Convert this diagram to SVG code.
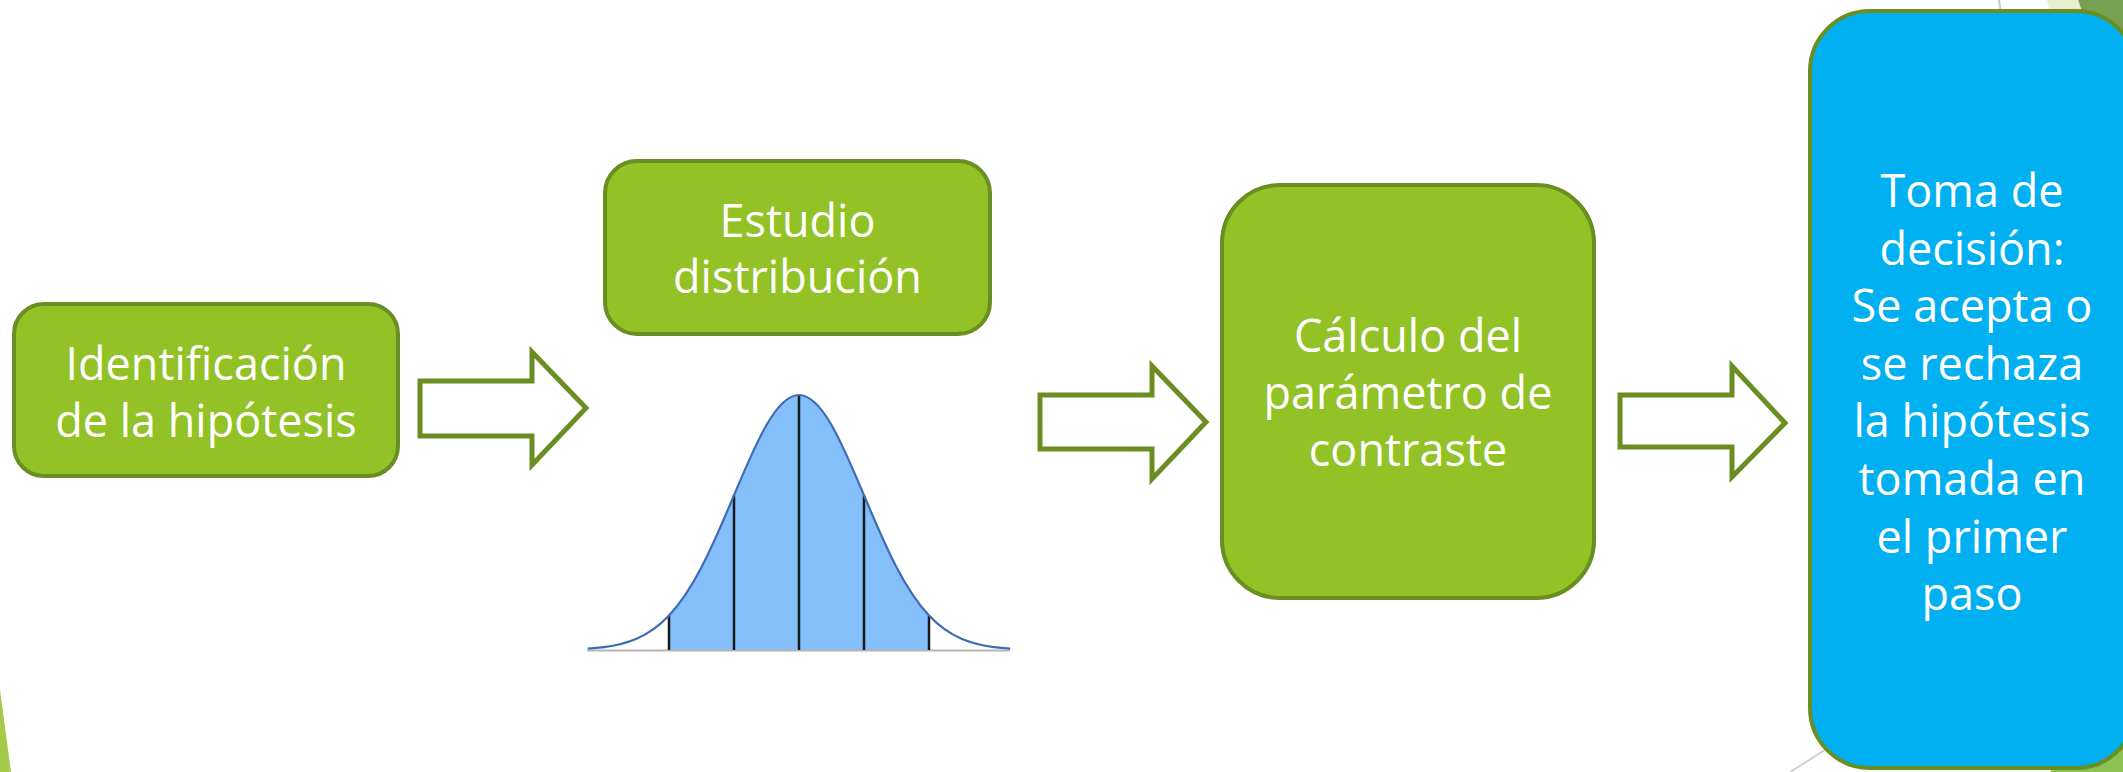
<svg xmlns="http://www.w3.org/2000/svg" width="2123" height="772" viewBox="0 0 2123 772">
  <style>
    .box { fill: #92C225; stroke: #6B8E23; stroke-width: 4; }
    .boxb { fill: #00B0F0; stroke: #6B8E23; stroke-width: 4; }
    .lbl { font-family: "Open Sans", "Noto Sans", "DejaVu Sans", sans-serif; font-size: 45px; fill: #FFFFFF; text-anchor: middle; }
    .arrow { fill: #FFFFFF; stroke: #6B8E23; stroke-width: 5; stroke-linejoin: miter; }
    .vline { stroke: #1A1A1A; stroke-width: 2.5; }
  </style>
  <rect width="2123" height="772" fill="#FFFFFF"/>

  <!-- background decorations -->
  <g id="decor">
    <polygon points="0,690 11,772 0,772" fill="#A5C94A"/>
    <line x1="1999" y1="0" x2="2005" y2="40" stroke="#C8C8C8" stroke-width="2"/>
    <polygon points="2047,0 2078,0 2100,60 2062,60" fill="#E6F0D0"/>
    <polygon points="2078,0 2123,0 2123,120 2100,60" fill="#76A052"/>
    <polygon points="2123,690 2123,772 2050,772" fill="#8CC152"/>
    <line x1="1790" y1="772" x2="1860" y2="728" stroke="#D0D0D0" stroke-width="2"/>
  </g>

  <g id="node-identificacion">
    <rect class="box" x="14" y="304" width="384" height="172" rx="30" ry="30"/>
    <text class="lbl" x="206" y="380">Identificación</text>
    <text class="lbl" x="206" y="437">de la hipótesis</text>
  </g>

  <g id="node-estudio">
    <rect class="box" x="605" y="161" width="385" height="173" rx="32" ry="32"/>
    <text class="lbl" x="797.5" y="237">Estudio</text>
    <text class="lbl" x="797.5" y="293">distribución</text>
  </g>

  <g id="normal-curve">
    <path d="M669,650 L669,615.5 C679.83,604 690.67,587.9 701.5,567.2 C712.33,546.5 723.17,521.08 734,495.3 C744.83,469.52 755.67,443.75 766.5,425 C777.33,406.25 788.17,395 799,395 C809.83,395 820.67,406.25 831.5,425 C842.33,443.75 853.17,469.52 864,495.3 C874.83,521.08 885.67,546.5 896.5,567.2 C907.33,587.9 918.17,604 929,615.5 L929,650 Z" fill="#84BFFB"/>
    <line x1="587" y1="650.5" x2="1010" y2="650.5" stroke="#B4B4B4" stroke-width="2"/>
    <line class="vline" x1="669" y1="615.5" x2="669" y2="650" stroke="#4A4A4A"/>
    <line class="vline" x1="734" y1="495.3" x2="734" y2="650"/>
    <line class="vline" x1="799" y1="395" x2="799" y2="650"/>
    <line class="vline" x1="864" y1="495.3" x2="864" y2="650"/>
    <line class="vline" x1="929" y1="615.5" x2="929" y2="650" stroke="#4A4A4A"/>
    <path d="M587.75,648.7 C593.17,648.35 598.58,647.91 604,647.2 C614.83,645.79 625.67,643.46 636.5,638.8 C647.33,634.14 658.17,627 669,615.5 C679.83,604 690.67,587.9 701.5,567.2 C712.33,546.5 723.17,521.08 734,495.3 C744.83,469.52 755.67,443.75 766.5,425 C777.33,406.25 788.17,395 799,395 C809.83,395 820.67,406.25 831.5,425 C842.33,443.75 853.17,469.52 864,495.3 C874.83,521.08 885.67,546.5 896.5,567.2 C907.33,587.9 918.17,604 929,615.5 C939.83,627 950.67,634.14 961.5,638.8 C972.33,643.46 983.17,645.79 994,647.2 C999.42,647.91 1004.83,648.35 1010.25,648.7" fill="none" stroke="#3D6CB5" stroke-width="2.2"/>
  </g>

  <g id="node-calculo">
    <rect class="box" x="1222" y="185" width="372" height="413" rx="58" ry="58"/>
    <text class="lbl" x="1408" y="352">Cálculo del</text>
    <text class="lbl" x="1408" y="409">parámetro de</text>
    <text class="lbl" x="1408" y="466">contraste</text>
  </g>

  <g id="node-decision">
    <rect class="boxb" x="1810" y="11" width="326" height="757" rx="60" ry="60"/>
    <text class="lbl" x="1972" y="207">Toma de</text>
    <text class="lbl" x="1972" y="264.6">decisión:</text>
    <text class="lbl" x="1972" y="322.2">Se acepta o</text>
    <text class="lbl" x="1972" y="379.8">se rechaza</text>
    <text class="lbl" x="1972" y="437.4">la hipótesis</text>
    <text class="lbl" x="1972" y="495">tomada en</text>
    <text class="lbl" x="1972" y="552.6">el primer</text>
    <text class="lbl" x="1972" y="610.2">paso</text>
  </g>

  <g id="connectors">
    <path class="arrow" d="M420,381 H532 V352 L586,408 L532,465 V436 H420 Z"/>
    <path class="arrow" d="M1040,395 H1152 V366 L1206,422 L1152,479 V449 H1040 Z"/>
    <path class="arrow" d="M1620,395 H1732 V366 L1785,423 L1732,477 V447 H1620 Z"/>
  </g>
</svg>
